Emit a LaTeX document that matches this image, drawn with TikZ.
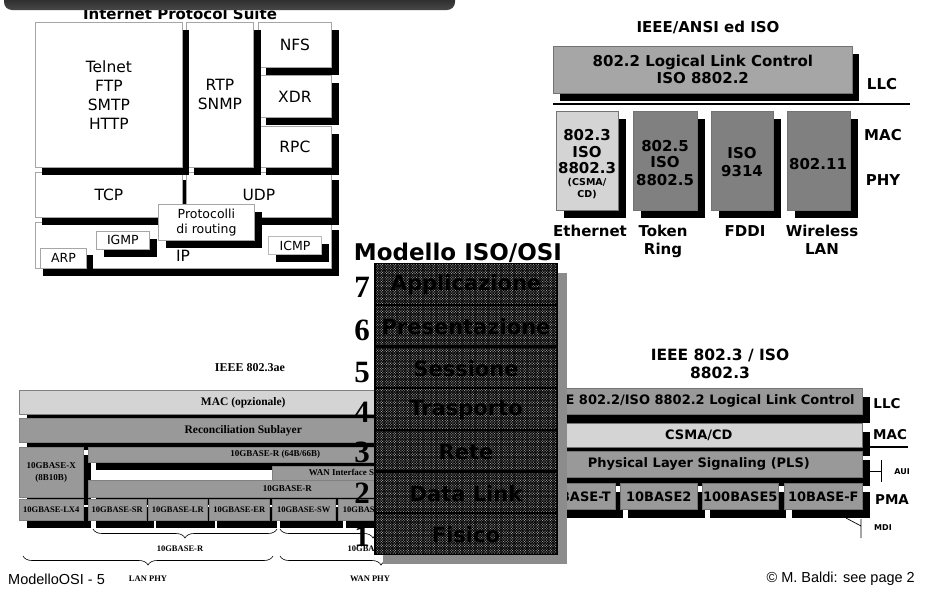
\documentclass[tikz,border=0pt]{standalone}
\usepackage{fontspec}
\setmainfont{DejaVu Sans}
\newfontfamily\lsans{Liberation Sans}
\newfontfamily\lserif{Liberation Serif}
\usetikzlibrary{patterns,decorations.pathreplacing}
\pgfdeclarepatternformonly{osidots}{\pgfqpoint{-0.5pt}{-0.5pt}}{\pgfqpoint{3pt}{3pt}}{\pgfqpoint{2.6pt}{2.6pt}}{%
  \pgfpathrectangle{\pgfqpoint{0pt}{0pt}}{\pgfqpoint{0.9pt}{0.9pt}}%
  \pgfpathrectangle{\pgfqpoint{1.3pt}{1.3pt}}{\pgfqpoint{0.9pt}{0.9pt}}%
  \pgfusepath{fill}}
\newcommand\fsz[2]{\fontsize{#1}{#2}\selectfont}
\newcommand\shb[9]{%
  \fill[black] ({#3+#7},{#4+#8}) rectangle ++(#5,#6);
  \node[#2, anchor=north west, minimum width=#5pt, minimum height=#6pt] (#1) at (#3,#4) {#9};}
\definecolor{lgray}{HTML}{D4D4D4}
\definecolor{mgray}{HTML}{A6A6A6}
\definecolor{dgray}{HTML}{808080}
\definecolor{cgray}{HTML}{999999}
\begin{document}
\begin{tikzpicture}[x=1pt,y=-1pt,
  ipb/.style={draw=gray!70, line width=0.8pt, fill=white, inner sep=0pt, align=center, font=\fsz{15.5}{19}},
  ips/.style={ipb, font=\fsz{12.5}{15}},
  ieb/.style={draw=black!55, line width=0.6pt, inner sep=0pt, align=center, font=\bfseries\fsz{15}{17}},
  lab/.style={inner sep=0pt, font=\bfseries\fsz{15}{15}},
  labs/.style={inner sep=0pt, font=\bfseries\fsz{13.5}{13.5}},
  aeb/.style={draw=black!50, line width=0.5pt, inner sep=0pt, fill=cgray, align=center, font=\lserif\bfseries\fsz{9}{12}},
  aer/.style={aeb, font=\lserif\bfseries\fsz{8.5}{8.5}},
  aelab/.style={inner sep=0pt, font=\lserif\bfseries\fsz{8.5}{8.5}},
  rtb/.style={draw=black!55, line width=0.6pt, inner sep=0pt, fill=cgray, font=\bfseries\fsz{13}{13}},
  brc/.style={decorate, decoration={brace, mirror, amplitude=9pt}, line width=0.6pt},
  osinum/.style={inner sep=0pt, font=\lserif\bfseries\fsz{31}{31}}]
\useasboundingbox (0,0) rectangle (928,590);
\clip (0,0) rectangle (928,590);
\fill[white] (0,0) rectangle (928,590);

% ---------- Internet Protocol Suite ----------
\node[font=\bfseries\fsz{15}{15}] (ipst) at (180,14) {Internet Protocol Suite};
\shb{ip}{ipb}{35}{222}{296}{46}{8}{8}{}
\node[inner sep=0pt, font=\fsz{15.5}{15.5}] (iptx) at (183,256) {IP};
\shb{tcp}{ipb}{35}{172}{147}{45}{7}{8}{TCP}
\shb{udp}{ipb}{186}{172}{145}{45}{8}{8}{UDP}
\shb{rpc}{ipb}{258}{126}{73}{41}{8}{8}{RPC}
\shb{xdr}{ipb}{258}{75}{73}{42}{8}{8}{XDR}
\shb{nfs}{ipb}{258}{22}{73}{45}{8}{8}{NFS}
\shb{rtp}{ipb}{186}{22}{67}{145}{8}{8}{RTP\\SNMP}
\shb{tel}{ipb}{35}{22}{147}{145}{7}{8}{Telnet\\FTP\\SMTP\\HTTP}
\shb{prt}{ips}{158}{204}{96}{36}{8}{8}{Protocolli\\di routing}
\shb{igmp}{ips}{96}{231}{53}{18}{8}{8}{IGMP}
\shb{arp}{ips}{40}{248}{46}{20}{7}{7}{ARP}
\shb{icmp}{ips, draw=gray!55, line width=1.2pt}{268}{236}{53}{18}{8}{8}{ICMP}

% ---------- banner ----------
\shade[top color=black, bottom color=black!72, rounded corners=8pt] (4,-20) rectangle (455,10);

% ---------- IEEE/ANSI ed ISO ----------
\node[lab] (ieet) at (708,27) {IEEE/ANSI ed ISO};
\shb{llca}{ieb, fill=mgray}{553}{46}{299}{47}{7}{8}{802.2 Logical Link Control\\ISO 8802.2}
\draw[line width=2pt] (553,104) -- (910,104);
\shb{ethb}{ieb, fill=lgray}{556}{111}{62}{99}{8}{8}{}
\shb{tokb}{ieb, fill=dgray}{633}{111}{64}{99}{8}{8}{}
\shb{fddb}{ieb, fill=dgray}{711}{111}{62}{99}{8}{8}{}
\shb{wlb}{ieb, fill=dgray}{787}{111}{63}{99}{8}{8}{}
\node[lab] (e1) at (587,135) {802.3};
\node[lab] (e2) at (587,152) {ISO};
\node[lab] (e3) at (587,168) {8802.3};
\node[inner sep=0pt, font=\bfseries\fsz{9.5}{9.5}] (e4) at (587,183) {(CSMA/};
\node[inner sep=0pt, font=\bfseries\fsz{9.5}{9.5}] (e5) at (587,195) {CD)};
\node[lab] (t1) at (665,146) {802.5};
\node[lab] (t2) at (665,162) {ISO};
\node[lab] (t3) at (665,180) {8802.5};
\node[lab] (f1) at (742,153) {ISO};
\node[lab] (f2) at (742,171) {9314};
\node[lab] (w1) at (818,164) {802.11};
\node[lab] (l1) at (590,231) {Ethernet};
\node[lab] (l2) at (663,231) {Token};
\node[lab, anchor=base] (l3) at (663,254) {Ring};
\node[lab] (l4) at (745,231) {FDDI};
\node[lab] (l5) at (822,231) {Wireless};
\node[lab] (l6) at (822,249) {LAN};
\node[lab] (rllc) at (882,84) {LLC};
\node[lab] (rmac) at (883,135) {MAC};
\node[lab] (rphy) at (883,180) {PHY};

% ---------- IEEE 802.3ae ----------
\node[inner sep=0pt, font=\lserif\bfseries\fsz{12}{12}] (aet) at (250,368) {IEEE 802.3ae};
\shb{macz}{aeb, fill=lgray, font=\lserif\bfseries\fsz{11.5}{11.5}}{19}{390}{448}{24}{8}{8}{MAC (opzionale)}
\shb{rec}{aeb, font=\lserif\bfseries\fsz{11.5}{11.5}}{19}{418}{448}{24}{8}{8}{Reconciliation Sublayer}
\shb{gx}{aeb}{19}{447}{64}{50}{8}{8}{10GBASE-X\\(8B10B)}
\shb{gr64}{aeb}{88}{447}{374}{15}{8}{8}{10GBASE-R (64B/66B)}
\shb{wis}{aeb}{272}{466}{168}{14}{8}{8}{WAN Interface Sublayer}
\shb{gr}{aeb}{88}{480}{398}{17}{8}{8}{10GBASE-R}
\shb{lx4}{aer}{19}{499}{64}{21}{8}{8}{10GBASE-LX4}
\shb{sr}{aer}{88}{499}{58}{21}{8}{8}{10GBASE-SR}
\shb{lr}{aer}{148}{499}{59}{21}{8}{8}{10GBASE-LR}
\shb{er}{aer}{209}{499}{60}{21}{8}{8}{10GBASE-ER}
\shb{sw}{aer}{272}{499}{63}{21}{8}{8}{10GBASE-SW}
\shb{lw}{aer}{338}{499}{63}{21}{8}{8}{10GBASE-LW}
\coordinate (b1a) at (93,529); \coordinate (b1b) at (277,529);
\coordinate (b2a) at (280,529); \coordinate (b2b) at (466,529);
\coordinate (b3a) at (23,556); \coordinate (b3b) at (273,556);
\coordinate (b4a) at (280,556); \coordinate (b4b) at (482,556);
\draw[brc] (b1a) -- (b1b);
\draw[brc] (b2a) -- (b2b);
\draw[brc] (b3a) -- (b3b);
\draw[brc] (b4a) -- (b4b);
\node[aelab] (bl1) at (180,549) {10GBASE-R};
\node[aelab] (bl2) at (372,549) {10GBASE-W};
\node[aelab] (bl3) at (148,579) {LAN PHY};
\node[aelab] (bl4) at (370,579) {WAN PHY};

% ---------- IEEE 802.3 / ISO 8802.3 ----------
\node[inner sep=0pt, align=center, font=\bfseries\fsz{15.5}{18}] (rtt) at (720,364) {IEEE 802.3 / ISO\\8802.3};
\shb{llcb}{rtb}{535}{388}{327}{26}{8}{9}{IEEE 802.2/ISO 8802.2 Logical Link Control}
\shb{csma}{rtb, fill=lgray}{535}{423}{327}{24}{8}{9}{CSMA/CD}
\shb{pls}{rtb}{535}{451}{327}{26}{8}{9}{Physical Layer Signaling (PLS)}
\shb{bt}{rtb}{537}{483}{78}{26}{8}{9}{10BASE-T}
\shb{b2}{rtb}{620}{483}{77}{26}{8}{9}{10BASE2}
\shb{b5}{rtb}{702}{483}{76}{26}{8}{9}{100BASE5}
\shb{bf}{rtb}{784}{483}{78}{26}{8}{9}{10BASE-F}
\node[labs] (r2llc) at (887,404) {LLC};
\node[labs] (r2mac) at (890,435) {MAC};
\node[labs] (r2pma) at (892,500) {PMA};
\coordinate (mu1) at (870,447); \coordinate (mu2) at (908,447);
\draw[line width=1.5pt] (mu1) -- (mu2);
\coordinate (au1) at (870,471); \coordinate (au2) at (881,471);
\coordinate (au3) at (881,460); \coordinate (au4) at (881,482);
\draw[line width=0.7pt] (au1) -- (au2) (au3) -- (au4);
\node[inner sep=0pt, font=\bfseries\fsz{8}{8}] (aui) at (902,472) {AUI};
\coordinate (md1) at (846,518); \coordinate (md2) at (861,526);
\coordinate (md3) at (861,519); \coordinate (md4) at (861,538);
\draw[line width=0.7pt] (md1) -- (md2) (md3) -- (md4);
\node[inner sep=0pt, font=\bfseries\fsz{8}{8}] (mdi) at (883,528) {MDI};

% ---------- Modello ISO/OSI ----------
\fill[black!45] (383,273) rectangle (567,564);
\fill[black] (374,263) rectangle (558,555);
\foreach \i/\t in {0/Applicazione,1/Presentazione,2/Sessione,3/Trasporto,4/Rete,5/Data Link,6/Fisico} {
  \pgfmathsetmacro\ya{263+41.71*\i+1.6}
  \pgfmathsetmacro\yb{263+41.71*(\i+1)-1.6}
  \fill[pattern=osidots, pattern color=gray!80] (376,\ya) rectangle (556,\yb);
  \node[inner sep=0pt, font=\bfseries\fsz{21}{21}, text=black] (osi\i) at (466,{(\ya+\yb)/2+1}) {\t};
}
\node[inner sep=0pt, font=\bfseries\fsz{23}{23}] (osit) at (458,253) {Modello ISO/OSI};
\node[osinum] (n7) at (362,287) {7};
\node[osinum] (n6) at (362,330) {6};
\node[osinum] (n5) at (362,372) {5};
\node[osinum] (n4) at (362,412) {4};
\node[osinum] (n3) at (362,452) {3};
\node[osinum] (n2) at (362,493) {2};
\node[osinum] (n1) at (362,536) {1};

% ---------- footer ----------
\node[anchor=west, inner sep=0pt, font=\lsans\fsz{14.5}{14.5}] (ft1) at (8,579) {ModelloOSI - 5};
\node[anchor=east, inner sep=0pt, font=\lsans\fsz{14.5}{14.5}] (ft2) at (915,579) {© M. Baldi: see page 2};
\end{tikzpicture}
\end{document}
